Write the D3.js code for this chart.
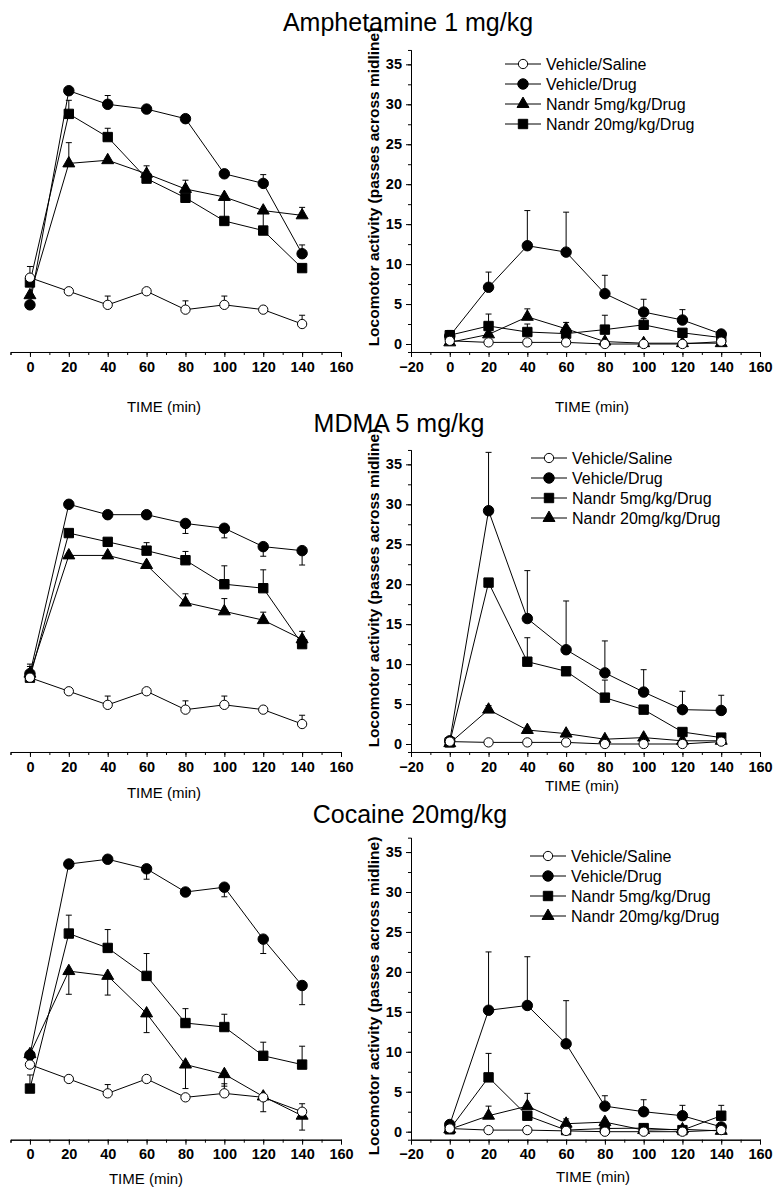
<!DOCTYPE html>
<html>
<head>
<meta charset="utf-8">
<script src="https://cdn.jsdelivr.net/npm/d3@7/dist/d3.min.js"></script>
<style>
    body { margin: 0; background: #ffffff; }
    svg { display: block; font-family: "Liberation Sans", Arial, sans-serif; }
</style>
</head>
<body>
<svg id="chart"></svg>
<script>
var times = [0, 20, 40, 60, 80, 100, 120, 140]
var seriesNames = ["Vehicle/Saline", "Vehicle/Drug", "Nandr 5mg/kg/Drug", "Nandr 20mg/kg/Drug"]
var drugTitles = ["Amphetamine 1 mg/kg", "MDMA 5 mg/kg", "Cocaine 20mg/kg"]
var xTicksLeft = [0, 20, 40, 60, 80, 100, 120, 140, 160]
var xTicksRight = [-20, 0, 20, 40, 60, 80, 100, 120, 140, 160]
var yTicks = [0, 5, 10, 15, 20, 25, 30, 35]
var yLabel = "Locomotor activity (passes across midline)"
var xLabel = "TIME (min)"

// series order in every panel: saline, vehicle/drug, nandr 5, nandr 20
// errors: positive = bar drawn up, negative = bar drawn down
var amphLeft = [
    [8.3, 6.6, 4.9, 6.6, 4.3, 4.9, 4.3, 2.5],
    [4.9, 31.7, 30.0, 29.4, 28.2, 21.3, 20.1, 11.3],
    [6.1, 22.6, 23.0, 21.3, 19.4, 18.4, 16.7, 16.1],
    [7.7, 28.8, 25.9, 20.7, 18.3, 15.4, 14.2, 9.5]
]
var amphLeftErr = [
    [1.4, 0, 1.1, 0, 1.1, 1.1, 0, 1.1],
    [0, 0, 1.1, 0, 0, 0, 1.1, 1.1],
    [0, 2.6, 0, 1.0, 1.1, 0, 0, 1.0],
    [0, 1.7, 1.1, 0, 0, 2.8, 2.3, 0]
]
var amphRight = [
    [0.4, 0.2, 0.2, 0.2, 0.0, 0.0, 0.0, 0.3],
    [1.0, 7.1, 12.3, 11.5, 6.3, 4.0, 3.0, 1.25],
    [0.2, 1.2, 3.4, 1.9, 0.3, 0.1, 0.1, 0.1],
    [1.1, 2.25, 1.5, 1.3, 1.8, 2.4, 1.4, 0.8]
]
var amphRightErr = [
    [0, 0, 0, 0, 0, 0, 0, 0],
    [0, 1.9, 4.4, 5.0, 2.3, 1.6, 1.3, 0.3],
    [0, 0, 1.0, 0.8, 0, 0, 0, 0],
    [0.6, 1.5, 1.0, 0, 1.8, 0.8, 0, 0]
]

var mdmaLeft = [
    [8.3, 6.6, 4.9, 6.6, 4.3, 4.9, 4.3, 2.5],
    [8.8, 30.0, 28.7, 28.7, 27.6, 27.0, 24.7, 24.2],
    [8.3, 26.4, 25.3, 24.2, 23.0, 20.0, 19.5, 12.5],
    [8.8, 23.6, 23.6, 22.4, 17.7, 16.6, 15.5, 13.1]
]
var mdmaLeftErr = [
    [1.4, 0, 1.1, 0, 1.1, 1.1, 0, 1.1],
    [1.2, 0, 0, 0, -1.25, -1.2, -1.2, -1.8],
    [0, 0, 0, 1.0, 1.1, 2.3, 2.3, 0],
    [0, 0, 0, 0, 1.1, 1.6, 1.0, 1.0]
]
var mdmaRight = [
    [0.3, 0.2, 0.2, 0.2, 0.0, 0.0, 0.0, 0.3],
    [0.4, 29.2, 15.7, 11.8, 8.9, 6.5, 4.3, 4.2],
    [0.2, 20.2, 10.3, 9.1, 5.8, 4.3, 1.5, 0.8],
    [0.1, 4.3, 1.75, 1.3, 0.6, 0.8, 0.4, 0.4]
]
var mdmaRightErr = [
    [0, 0.3, 0.3, 0.3, 0, 0, 0, 0],
    [0, 7.3, 6.0, 6.1, 4.0, 2.8, 2.3, 1.9],
    [0, 0, 3.0, 0, 2.2, 0, 0, 0],
    [0, 0.5, 0, 0, 0, 0, 0, 0]
]

var cocLeft = [
    [8.4, 6.6, 4.8, 6.6, 4.3, 4.8, 4.3, 2.5],
    [9.6, 33.5, 34.1, 32.9, 30.0, 30.6, 24.1, 18.3],
    [5.4, 24.8, 23.0, 19.5, 13.6, 13.1, 9.5, 8.4],
    [9.7, 20.1, 19.5, 14.8, 8.4, 7.2, 4.4, 2.0]
]
var cocLeftErr = [
    [0.6, 0, 1.1, 0, 0, 1.2, 0, 1.0],
    [0, 0, 0, -1.3, 0, -1.2, -1.8, -2.4],
    [1.7, 2.3, 2.3, 2.8, 1.8, 1.6, 1.7, 2.3],
    [0, -2.9, -2.4, -2.4, -3.0, -1.5, -1.9, -1.8]
]
var cocRight = [
    [0.4, 0.2, 0.2, 0.1, 0.0, 0.0, 0.0, 0.2],
    [0.9, 15.2, 15.8, 11.0, 3.2, 2.5, 2.0, 0.6],
    [0.3, 6.8, 2.0, 0.2, 0.4, 0.45, 0.2, 2.0],
    [0.3, 2.0, 3.2, 1.0, 1.2, 0.2, 0.3, 0.1]
]
var cocRightErr = [
    [0, 0.3, 0.3, 0, 0, 0, 0, 0],
    [0, 7.3, 6.1, 5.4, 1.3, 1.5, 1.3, 0],
    [0, 3.0, 0, 0, 0, 0, 0, 1.3],
    [0, 1.2, 1.6, 0.6, 0, 0, 0, 0]
]

var dimensions = {
    width: 777,
    height: 1187,
    unit: 7.99,
    yMax: 36.8
}

var rows = [
    {
        title: drugTitles[0], titleX: 408, titleY: 31, zero: 344,
        left: amphLeft, leftErr: amphLeftErr, right: amphRight, rightErr: amphRightErr,
        symbols: ["open", "circle", "triangle", "square"],
        legendX: 505, legendY: 64, yLabelY: 187,
        timeLeft: [164, 412], timeRight: [592, 412]
    },
    {
        title: drugTitles[1], titleX: 399, titleY: 432, zero: 744,
        left: mdmaLeft, leftErr: mdmaLeftErr, right: mdmaRight, rightErr: mdmaRightErr,
        symbols: ["open", "circle", "square", "triangle"],
        legendX: 531, legendY: 458, yLabelY: 588,
        timeLeft: [164, 798], timeRight: [582, 791]
    },
    {
        title: drugTitles[2], titleX: 410, titleY: 823, zero: 1131.7,
        left: cocLeft, leftErr: cocLeftErr, right: cocRight, rightErr: cocRightErr,
        symbols: ["open", "circle", "square", "triangle"],
        legendX: 530, legendY: 856, yLabelY: 996,
        timeLeft: [146, 1184], timeRight: [593, 1182]
    }
]

var svg = d3.select("#chart")
    .attr("width", dimensions.width)
    .attr("height", dimensions.height)

svg.append("rect")
    .attr("width", dimensions.width)
    .attr("height", dimensions.height)
    .attr("fill", "#ffffff")

var xLeft = d3.scaleLinear().domain([-10, 160]).range([10.5, 341])
var xRight = d3.scaleLinear().domain([-20, 160]).range([411, 760])

function symbolPath(kind) {
    if (kind === "square") return d3.symbol(d3.symbolSquare, 88)()
    if (kind === "triangle") return d3.symbol(d3.symbolTriangle, 62)()
    return d3.symbol(d3.symbolCircle, kind === "open" ? 68 : 86)()
}

function styleAxis(g, bold) {
    g.attr("font-size", null).attr("font-family", null)
    g.selectAll("path, line").attr("stroke", "#000").attr("stroke-width", 1)
    g.selectAll("text")
        .attr("fill", "#000")
        .style("font-size", "14.5px")
        .style("font-weight", bold ? "bold" : "normal")
}

function drawPanel(g, xScale, yScale, values, errs, symbols) {
    var line = d3.line()
        .x((d, i) => xScale(times[i]))
        .y(d => yScale(d))

    // draw saline last so its open markers sit on top
    var order = [1, 3, 2, 0]

    order.forEach(function (s) {
        g.append("path")
            .datum(values[s])
            .attr("d", line)
            .attr("fill", "none")
            .attr("stroke", "#000")
            .attr("stroke-width", 1)
    })

    order.forEach(function (s) {
        var bars = g.append("g")
            .selectAll("g")
            .data(values[s].map((v, i) => ({ t: times[i], v: v, e: errs[s][i] })).filter(d => d.e !== 0))
            .enter()
            .append("g")
        bars.append("line")
            .attr("x1", d => xScale(d.t))
            .attr("x2", d => xScale(d.t))
            .attr("y1", d => yScale(d.v))
            .attr("y2", d => yScale(d.v + d.e))
            .attr("stroke", "#000")
        bars.append("line")
            .attr("x1", d => xScale(d.t) - 3)
            .attr("x2", d => xScale(d.t) + 3)
            .attr("y1", d => yScale(d.v + d.e))
            .attr("y2", d => yScale(d.v + d.e))
            .attr("stroke", "#000")
    })

    order.forEach(function (s) {
        g.append("g")
            .selectAll("path")
            .data(values[s])
            .enter()
            .append("path")
            .attr("d", symbolPath(symbols[s]))
            .attr("transform", (d, i) => "translate(" + xScale(times[i]) + "," + yScale(d) + ")")
            .attr("fill", symbols[s] === "open" ? "#ffffff" : "#000")
            .attr("stroke", "#000")
            .attr("stroke-width", 1)
    })
}

rows.forEach(function (row) {
    var yScale = d3.scaleLinear()
        .domain([-1, dimensions.yMax])
        .range([row.zero + dimensions.unit, row.zero - dimensions.yMax * dimensions.unit])
    var axisY = yScale(-1)

    svg.append("text")
        .attr("x", row.titleX)
        .attr("y", row.titleY)
        .attr("text-anchor", "middle")
        .style("font-size", "25px")
        .text(row.title)

    // left panel: x axis only
    svg.append("g")
        .attr("transform", "translate(0," + axisY + ")")
        .call(d3.axisBottom(xLeft).tickValues(xLeft.ticks(17)).tickSize(3).tickFormat(""))
        .call(g => styleAxis(g, true))
    svg.append("g")
        .attr("transform", "translate(0," + axisY + ")")
        .call(d3.axisBottom(xLeft).tickValues(xTicksLeft).tickSizeInner(5).tickSizeOuter(0).tickPadding(4.5))
        .call(g => styleAxis(g, true))

    drawPanel(svg.append("g"), xLeft, yScale, row.left, row.leftErr, row.symbols)

    svg.append("text")
        .attr("x", row.timeLeft[0])
        .attr("y", row.timeLeft[1])
        .attr("text-anchor", "middle")
        .style("font-size", "15px")
        .text(xLabel)

    // right panel with y axis
    svg.append("g")
        .attr("transform", "translate(0," + axisY + ")")
        .call(d3.axisBottom(xRight).tickValues(xRight.ticks(18)).tickSize(3).tickFormat(""))
        .call(g => styleAxis(g, true))
    svg.append("g")
        .attr("transform", "translate(0," + axisY + ")")
        .call(d3.axisBottom(xRight).tickValues(xTicksRight).tickSizeInner(5).tickSizeOuter(0).tickPadding(4.5))
        .call(g => styleAxis(g, true))

    svg.append("g")
        .attr("transform", "translate(" + xRight.range()[0] + ",0)")
        .call(d3.axisLeft(yScale).tickValues(d3.range(0, 36, 2.5)).tickSize(3).tickFormat(""))
        .call(g => styleAxis(g, true))
    svg.append("g")
        .attr("transform", "translate(" + xRight.range()[0] + ",0)")
        .call(d3.axisLeft(yScale).tickValues(yTicks).tickSizeInner(5).tickSizeOuter(0).tickPadding(4))
        .call(g => styleAxis(g, true))

    drawPanel(svg.append("g"), xRight, yScale, row.right, row.rightErr, row.symbols)

    svg.append("text")
        .attr("transform", "translate(379," + row.yLabelY + ") rotate(-90)")
        .attr("text-anchor", "middle")
        .style("font-size", "15.5px")
        .style("font-weight", "bold")
        .text(yLabel)

    svg.append("text")
        .attr("x", row.timeRight[0])
        .attr("y", row.timeRight[1])
        .attr("text-anchor", "middle")
        .style("font-size", "15px")
        .text(xLabel)

    // legend
    var legend = svg.append("g")
        .selectAll("g")
        .data(seriesNames)
        .enter()
        .append("g")
        .attr("transform", (d, i) => "translate(" + row.legendX + "," + (row.legendY + i * 20) + ")")
    legend.append("line")
        .attr("x1", 0)
        .attr("x2", 36)
        .attr("stroke", "#000")
    legend.append("path")
        .attr("d", (d, i) => symbolPath(row.symbols[i]))
        .attr("transform", "translate(18,0)")
        .attr("fill", (d, i) => row.symbols[i] === "open" ? "#ffffff" : "#000")
        .attr("stroke", "#000")
    legend.append("text")
        .attr("x", 41)
        .attr("dy", "0.35em")
        .style("font-size", "16px")
        .text(d => d)
})
</script>
</body>
</html>
